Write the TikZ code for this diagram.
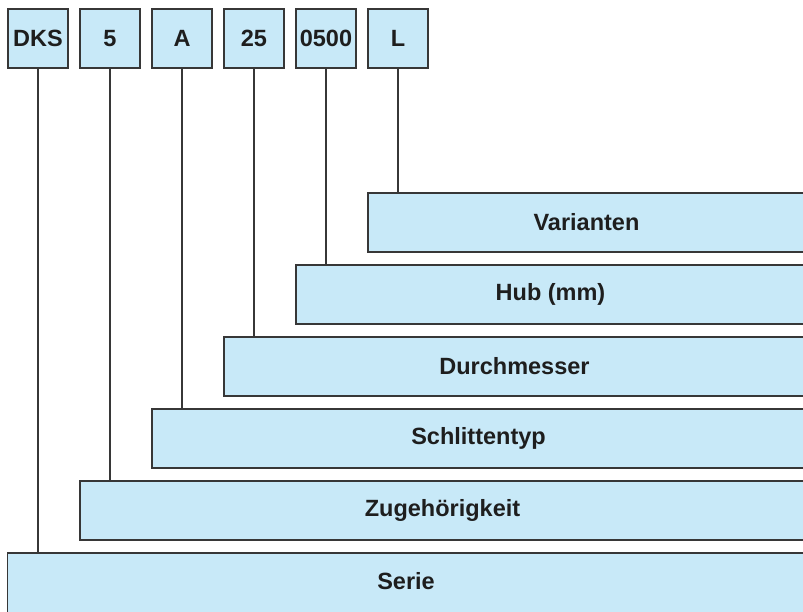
\documentclass[tikz,border=0pt]{standalone}
\usepackage{fontspec}
\setmainfont{Liberation Sans}
\definecolor{boxfill}{RGB}{200,233,248}
\definecolor{boxline}{RGB}{55,55,55}
\definecolor{txt}{RGB}{30,30,30}
\begin{document}
\begin{tikzpicture}[x=1pt,y=-1pt,
  lbl/.style={font=\fontsize{23.5}{26}\selectfont\bfseries,text=txt},
  codebox/.style={lbl,draw=boxline,fill=boxfill,line width=1.2pt,minimum width=60pt,minimum height=59pt,inner sep=0pt},
  rowbox/.style={draw=boxline,fill=boxfill,line width=1.2pt,minimum height=59pt,inner sep=0pt},
  link/.style={draw=boxline,line width=1.2pt}]
\useasboundingbox (0,0) rectangle (803,612);
\clip (0,0) rectangle (803,612);
% top code boxes
\node[codebox] (dks) at (38,38.5) {DKS};
\node[codebox] (c5) at (110,38.5) {5};
\node[codebox] (ca) at (182,38.5) {A};
\node[codebox] (c25) at (254,38.5) {25};
\node[codebox] (c0500) at (326,38.5) {0500};
\node[codebox] (cl) at (398,38.5) {L};
% row boxes (open to the right edge)
\node[rowbox,minimum width=445pt] (var) at (368+222.5,222.5) {};
\node[rowbox,minimum width=517pt] (hub) at (296+258.5,294.5) {};
\node[rowbox,minimum width=589pt] (dur) at (224+294.5,366.5) {};
\node[rowbox,minimum width=661pt] (sch) at (152+330.5,438.5) {};
\node[rowbox,minimum width=733pt] (zug) at (80+366.5,510.5) {};
\node[rowbox,minimum width=806pt,minimum height=70pt] (ser) at (7.5+403,553+35) {};
% labels centred on the visible box part
\node[lbl] (tvar) at (586.5,222.5) {Varianten};
\node[lbl] (thub) at (550.5,294.5) {Hub (mm)};
\node[lbl] (tdur) at (514.5,366.5) {Durchmesser};
\node[lbl] (tsch) at (478.5,438.5) {Schlittentyp};
\node[lbl] (tzug) at (442.5,510.5) {Zugehörigkeit};
\node[lbl] (tser) at (406,581.5) {Serie};
% connectors
\draw[link] (dks.south) -- (dks.south |- ser.north);
\draw[link] (c5.south) -- (c5.south |- zug.north);
\draw[link] (ca.south) -- (ca.south |- sch.north);
\draw[link] (c25.south) -- (c25.south |- dur.north);
\draw[link] (c0500.south) -- (c0500.south |- hub.north);
\draw[link] (cl.south) -- (cl.south |- var.north);
\end{tikzpicture}
\end{document}
